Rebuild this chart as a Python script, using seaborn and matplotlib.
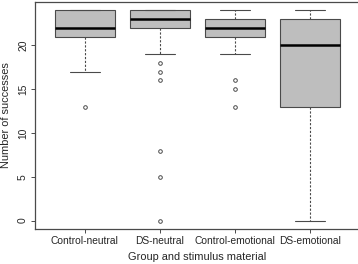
import pandas as pd
import matplotlib
matplotlib.use("Agg")
import matplotlib.pyplot as plt
import seaborn as sns

# Scores per group (quartiles, whiskers, outliers)
groups = ["Control-neutral", "DS-neutral", "Control-emotional", "DS-emotional"]
control_neutral = [13, 17, 19, 20, 21, 21, 21, 22, 22, 22, 22, 23, 23, 23, 24, 24, 24, 24, 24, 24, 24]
ds_neutral = [0, 5, 8, 16, 17, 18, 19, 22, 22, 22, 23, 23, 23, 23, 23, 23, 23, 24, 24, 24, 24,
              24, 24, 24, 24, 24, 24, 24, 24]
control_emotional = [13, 15, 16, 19, 20, 21, 21, 21, 22, 22, 22, 22, 22, 23, 23, 23, 23, 23, 24, 24, 24]
ds_emotional = [0, 3, 7, 10, 12, 13, 15, 17, 18, 19, 20, 21, 22, 22, 23, 23, 23, 24, 24, 24, 24]

scores = {
    "Control-neutral": control_neutral,
    "DS-neutral": ds_neutral,
    "Control-emotional": control_emotional,
    "DS-emotional": ds_emotional,
}
df = pd.concat([pd.DataFrame({"group": g, "successes": v}) for g, v in scores.items()],
               ignore_index=True)

sns.set_style("white")
plt.rcParams["font.family"] = ["Liberation Sans", "DejaVu Sans"]

fig = plt.figure(figsize=(3.58, 2.64), dpi=100)
ax = fig.add_axes([35 / 358, 1 - 229 / 264, 324.5 / 358, 227 / 264])

edge = "#4a4a4a"
sns.boxplot(data=df, x="group", y="successes", order=groups, ax=ax,
            color="#bebebe", width=0.8, linewidth=0.8, saturation=1,
            boxprops=dict(facecolor="#bebebe", edgecolor=edge),
            medianprops=dict(color="black", linewidth=1.8),
            whiskerprops=dict(color=edge, linestyle=(0, (2, 1.5))),
            capprops=dict(color=edge),
            flierprops=dict(marker="o", markersize=2.6, markerfacecolor="none",
                            markeredgecolor=edge, markeredgewidth=0.7))

ax.set_xlim(0.34 - 1, 4.66 - 1)
ax.set_ylim(-0.96, 24.96)
ax.set_yticks([0, 5, 10, 15, 20])
ax.set_yticklabels(["0", "5", "10", "15", "20"], rotation=90, va="center")
ax.tick_params(axis="both", which="both", direction="out", length=3, width=0.7,
               color=edge, labelsize=7.4, pad=2, left=True, bottom=True)
ax.set_xlabel("Group and stimulus material", fontsize=7.9, labelpad=4)
ax.set_ylabel("Number of successes", fontsize=7.9, labelpad=5)
for s in ax.spines.values():
    s.set_color(edge)
    s.set_linewidth(0.9)

fig.savefig("out.png", dpi=100)
